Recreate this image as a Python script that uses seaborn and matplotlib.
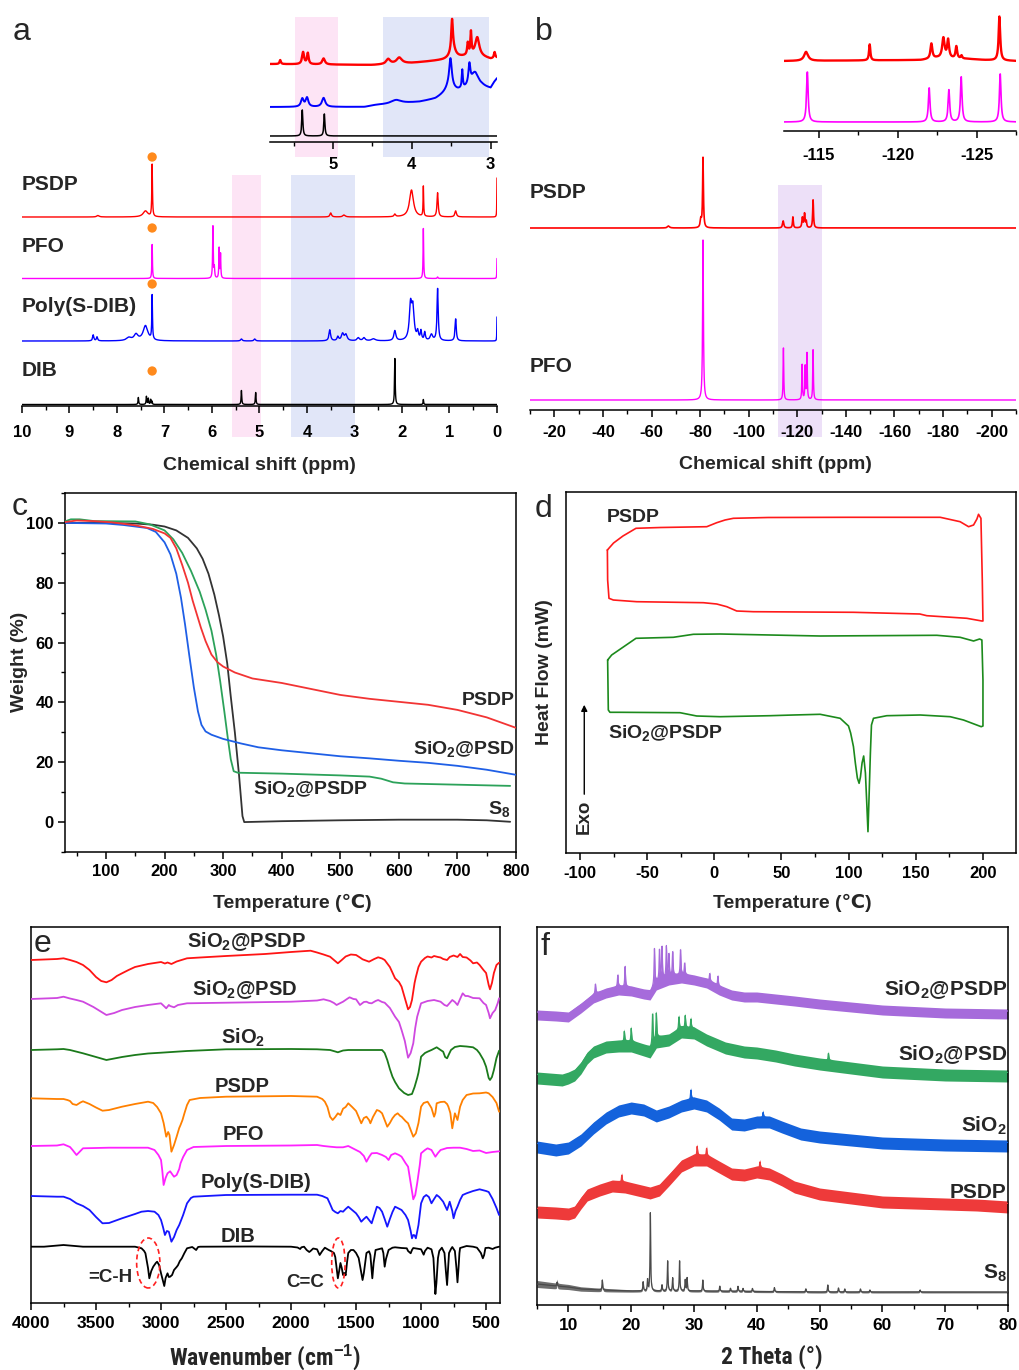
import numpy as np
import matplotlib
matplotlib.use("Agg")
import matplotlib.pyplot as plt
from matplotlib.patches import Ellipse
from matplotlib.ticker import MultipleLocator
import seaborn as sns

# ---------------------------------------------------------------
# (a) 1H NMR  -- peak tables: (shift ppm, height, half-width ppm)
# ---------------------------------------------------------------
h1_labels = ["PSDP", "PFO", "Poly(S-DIB)", "DIB"]
h1_colors = ["#ff0000", "#ff00ff", "#0000ff", "#000000"]
h1_baselines = [189, 127.5, 65, 1.5]
h1_label_y = [221, 159, 100, 35]
h1_dot_y = [249, 178, 122, 35]
h1_solvent_ppm = 7.26
h1_psdp = [(8.40, 1.5, 0.03), (7.40, 6, 0.06), (7.26, 52, 0.008), (3.50, 4, 0.02),
           (3.22, 2, 0.03), (2.15, 2.5, 0.02), (1.80, 27, 0.05), (1.55, 30, 0.007),
           (1.25, 24, 0.015), (0.87, 6, 0.02), (0.00, 39, 0.004)]
h1_pfo = [(7.26, 34, 0.007), (5.98, 52, 0.008), (5.95, 10, 0.008), (5.85, 30, 0.007),
          (5.82, 24, 0.007), (1.55, 50, 0.007), (1.25, 1.5, 0.01), (0.00, 20, 0.004)]
h1_poly = [(8.50, 6, 0.015), (8.42, 4, 0.015), (7.75, 3, 0.06), (7.60, 6, 0.05),
           (7.40, 15, 0.06), (7.26, 44, 0.008), (5.38, 2, 0.02), (5.10, 2, 0.02),
           (3.52, 11, 0.02), (3.35, 4, 0.02), (3.25, 7, 0.03), (3.18, 6, 0.03),
           (2.92, 3, 0.03), (2.80, 3, 0.03), (2.60, 2, 0.05), (2.15, 10, 0.025),
           (1.82, 34, 0.03), (1.77, 30, 0.03), (1.67, 8, 0.02), (1.60, 9, 0.015),
           (1.52, 8, 0.015), (1.38, 6, 0.03), (1.25, 52, 0.015), (0.87, 22, 0.015),
           (0.00, 24, 0.004)]
h1_dib = [(7.55, 7, 0.008), (7.38, 8, 0.008), (7.34, 6, 0.008), (7.29, 5, 0.008),
          (7.26, 3, 0.006), (5.38, 14, 0.008), (5.08, 12, 0.008), (2.15, 46, 0.008),
          (1.55, 5, 0.007)]
h1_bands = [(5.58, 4.97, "#fde4f5"), (4.34, 2.99, "#e1e6f8")]

# inset of (a): 5.8 - 2.9 ppm
h1i_colors = ["#ff0000", "#0000ff", "#000000"]
h1i_psdp_base = [(2.92, 84), (3.0, 83), (3.2, 87), (3.45, 84), (3.6, 82), (4.0, 79),
                 (4.5, 77), (5.8, 78)]
h1i_psdp = [(5.67, 4, 0.01), (5.38, 12, 0.015), (5.32, 11, 0.012), (5.12, 6, 0.02),
            (4.30, 5, 0.03), (4.16, 6, 0.04), (3.49, 30, 0.012), (3.48, 10, 0.04),
            (3.29, 12, 0.01), (3.25, 22, 0.008), (3.17, 18, 0.03), (2.95, 6, 0.01)]
h1i_poly_base = [(2.92, 63), (2.95, 60), (3.0, 53), (3.1, 54), (3.3, 52), (3.42, 50),
                 (3.55, 49), (3.6, 47), (3.7, 43), (3.9, 40), (4.2, 38), (4.45, 37),
                 (4.6, 35), (5.8, 35)]
h1i_poly = [(5.39, 8, 0.02), (5.33, 9, 0.02), (5.12, 9, 0.025), (4.2, 4, 0.08),
            (3.51, 28, 0.02), (3.52, 6, 0.06), (3.36, 18, 0.008), (3.27, 20, 0.015),
            (3.20, 16, 0.06)]
h1i_dib_base = [(2.92, 6), (5.8, 6)]
h1i_dib = [(5.39, 26, 0.008), (5.11, 22, 0.008)]
h1i_bands = [(5.48, 4.94, "#fde4f5"), (4.37, 3.02, "#e1e6f8")]

# ---------------------------------------------------------------
# (b) 19F NMR
# ---------------------------------------------------------------
f19_labels = ["PSDP", "PFO"]
f19_colors = ["#ff0000", "#ff00ff"]
f19_baselines = [182, 10]
f19_label_y = [218, 44]
f19_psdp = [(-67, 2, 0.5), (-80.3, 8, 0.3), (-81.2, 70, 0.2), (-114.2, 7, 0.3),
            (-118.2, 11, 0.2), (-122.1, 10, 0.25), (-123.0, 14, 0.25),
            (-123.7, 6, 0.2), (-126.5, 28, 0.2)]
f19_pfo = [(-81.2, 160, 0.2), (-114.3, 52, 0.15), (-122.0, 35, 0.15),
           (-123.25, 33, 0.15), (-124.0, 46, 0.15), (-126.5, 50, 0.15)]
f19_band = (-112.0, -130.0, "#ede0f8")
f19i_psdp_base = [(-127.5, 70), (-125.5, 71), (-124.5, 72), (-122.5, 73),
                  (-121.5, 71), (-112.8, 70)]
f19i_psdp = [(-114.2, 9, 0.15), (-118.23, 16, 0.05), (-122.14, 15, 0.07),
             (-122.9, 20, 0.09), (-123.2, 18, 0.07), (-123.72, 12, 0.06),
             (-124.05, 3, 0.05), (-126.45, 44, 0.06)]
f19i_pfo_base = [(-127.5, 9), (-112.8, 9)]
f19i_pfo = [(-114.28, 50, 0.06), (-122.0, 34, 0.06), (-123.25, 32, 0.06),
            (-124.03, 45, 0.06), (-126.5, 48, 0.06)]

# ---------------------------------------------------------------
# (c) TGA: temperature (°C) / weight (%)
# ---------------------------------------------------------------
tga_psdp_t = [30, 50, 80, 110, 150, 180, 200, 210, 220, 230, 240, 248, 255, 262, 270,
              280, 290, 300, 320, 350, 400, 450, 500, 550, 600, 650, 700, 750, 800]
tga_psdp_w = [100.3, 100.8, 100.6, 100.2, 99.2, 98, 96.5, 95, 91.5, 86, 80, 74, 69.5,
              65, 60.5, 56, 53.5, 52, 50, 48, 46.5, 44.5, 42.5, 41.2, 40.2, 39.2,
              37.5, 35, 31.5]
tga_psd_t = [30, 100, 130, 170, 185, 200, 210, 220, 228, 235, 242, 250, 257, 263, 270,
             280, 300, 330, 360, 400, 450, 500, 550, 600, 650, 700, 750, 800]
tga_psd_w = [100, 99.8, 99.3, 98.3, 97, 93.5, 89.5, 83, 75, 66, 56, 45, 37, 32.5,
             30.3, 29.2, 27.8, 26.3, 25, 24, 23, 22, 21.3, 20.5, 19.8, 18.8, 17.5, 15.8]
tga_psdp_si_t = [30, 40, 55, 80, 150, 175, 200, 215, 230, 245, 260, 270, 280, 288,
                 295, 302, 308, 313, 318, 325, 400, 500, 550, 570, 590, 610, 700, 790]
tga_psdp_si_w = [100.5, 101.2, 101.2, 100.6, 100.5, 99.5, 97.5, 94.5, 90, 84, 77, 71,
                 64, 56, 47, 37, 28, 21, 17, 16.5, 16.2, 15.6, 15.2, 14.5, 13.3, 12.9,
                 12.5, 12.1]
tga_s8_t = [30, 100, 150, 180, 200, 220, 240, 255, 265, 275, 285, 293, 300, 307, 313,
            320, 327, 333, 336, 400, 500, 600, 700, 750, 790]
tga_s8_w = [100, 100, 99.8, 99.4, 98.8, 97.5, 95, 91.5, 88, 83, 76, 69, 62, 53, 42,
            30, 16, 2, 0, 0.3, 0.6, 0.8, 0.8, 0.6, 0.1]

# ---------------------------------------------------------------
# (d) DSC loops (heat flow in arbitrary offset units)
# ---------------------------------------------------------------
dsc_psdp_t = [-79.6, -75, -68, -58.3, -40, -5.6, 1.8, 8, 14.2, 40, 100, 168.2, 183,
              189.3, 193, 195.5, 196.7, 198.5, 199.5, 200, 199.2, 188, 158.2, 153,
              103.6, 29, 16.7, 9.3, 1.8, -8.1, -57.8, -75.2, -78.4, -79.4, -79.6]
dsc_psdp_h = [303, 310, 317, 324.7, 325.5, 326.3, 330.3, 333, 334.7, 335.5, 335.7,
              335.7, 331.3, 326.3, 328, 334, 338.7, 334.7, 273, 232, 232, 234.7, 237.3,
              239, 240.7, 241.3, 242, 246.3, 249, 250.3, 251.3, 253, 254.7, 273, 303]
dsc_si_t = [-79.4, -76.4, -58.3, -30.5, -15.6, 4.3, 78.8, 165.7, 183, 193, 197.5, 199.2,
            200, 200, 198.7, 185.5, 175.6, 153.3, 128.4, 118.5, 117, 116.2, 115.3,
            114.4, 113.5, 112.5, 111.2, 110, 108.8, 107.8, 106.5, 105, 103.6, 101.5,
            99.9, 93.7, 78.8, 58.9, 41.5, 4.3, -13.1, -25.5, -70.2, -77.7, -78.9, -79.4]
dsc_si_h = [193, 198, 214.7, 215.7, 218.7, 219, 217, 217.7, 215.7, 212, 214, 213, 173,
            127, 126.3, 133, 136.3, 138, 137.3, 134.7, 128, 100, 60, 21.3, 50, 80, 97,
            90, 76, 69.7, 75, 90, 106.3, 120, 127, 134.7, 138.7, 138, 137.3, 136.3, 137,
            140.3, 140.7, 140.7, 143, 193]

# ---------------------------------------------------------------
# (e) FTIR: (wavenumber, stacked transmittance)
# ---------------------------------------------------------------
ir_labels = ["SiO$_2$@PSDP", "SiO$_2$@PSD", "SiO$_2$", "PSDP", "PFO", "Poly(S-DIB)", "DIB"]
ir_colors = ["#ff1414", "#cf48e0", "#1b7a1b", "#ff8000", "#ff22ff", "#1616ff", "#000000"]
ir_label_pos = [(2346, 361), (2354, 313), (2369, 265), (2377, 217), (2369, 168),
                (2269, 120), (2408, 66)]
ir_si_psdp = [(4000, 343), (3900, 343.5), (3800, 344), (3750, 344.7), (3700, 343), (3650, 341),
              (3600, 338), (3550, 333), (3500, 326), (3460, 322), (3420, 320.7), (3380, 323),
              (3340, 327), (3300, 329.7), (3250, 333), (3200, 336), (3100, 339), (3000, 341),
              (2970, 339.5), (2950, 340.5), (2920, 339), (2880, 341.5), (2800, 344.7),
              (2700, 345.5), (2500, 347), (2200, 349), (2000, 351), (1850, 352.3),
              (1800, 350.5), (1750, 348.5), (1700, 346.3), (1670, 343), (1640, 339.7),
              (1610, 343), (1580, 346.5), (1540, 348.5), (1500, 348), (1470, 345.5),
              (1450, 343.7), (1400, 341.3), (1360, 344), (1330, 345.7), (1300, 344.5),
              (1280, 343), (1240, 336), (1200, 324.7), (1170, 321), (1150, 316.3),
              (1125, 305), (1100, 293.7), (1085, 296), (1070, 303), (1050, 320), (1040, 326),
              (1020, 336), (1000, 341.3), (970, 345), (950, 346.5), (920, 345.5), (900, 347),
              (870, 346), (850, 345.5), (830, 344), (800, 343), (780, 346), (750, 347.5),
              (720, 346), (700, 349), (680, 346), (650, 345.5), (620, 342.5), (600, 339.7),
              (570, 340.5), (550, 338), (520, 333), (500, 330), (480, 318), (470, 313.7),
              (455, 320), (440, 330), (420, 338), (400, 340.3)]
ir_si_psd = [(4000, 304), (3900, 304.5), (3800, 305), (3750, 306.3), (3700, 304.5), (3650, 303),
             (3600, 301.3), (3520, 296), (3420, 288), (3360, 290), (3300, 293), (3200, 296),
             (3100, 298), (3000, 299.7), (2970, 296), (2960, 294.7), (2940, 298), (2930, 297),
             (2900, 295.7), (2870, 298), (2800, 299.7), (2500, 300.3), (2000, 301.3),
             (1800, 302.5), (1750, 303.7), (1700, 302), (1670, 300), (1650, 298), (1620, 300),
             (1600, 301.3), (1570, 304), (1550, 305.7), (1520, 304), (1500, 303.7),
             (1470, 298), (1440, 301), (1420, 301.3), (1400, 300), (1380, 299.7), (1350, 302),
             (1330, 303), (1300, 301), (1280, 300.3), (1240, 295), (1200, 286.3), (1170, 281),
             (1150, 273), (1125, 262), (1100, 245.3), (1080, 250), (1060, 259.7), (1045, 275),
             (1030, 286.3), (1000, 299.7), (950, 302), (900, 303), (850, 301.3), (820, 298),
             (800, 297), (780, 300), (760, 303), (740, 301), (720, 298), (700, 304),
             (680, 309.7), (660, 307), (640, 307), (600, 305), (550, 304.7), (520, 300),
             (500, 298), (480, 290), (470, 284.7), (450, 290), (430, 293), (410, 300),
             (400, 304.7)]
ir_sio2 = [(4000, 253), (3800, 253.7), (3750, 254), (3700, 253), (3600, 249.7), (3500, 246),
           (3420, 243), (3300, 246), (3200, 248), (3100, 249.5), (3000, 250.3), (2800, 252),
           (2500, 253.7), (2000, 254), (1800, 253.7), (1700, 253), (1660, 251.5), (1640, 250.7),
           (1600, 252.5), (1560, 253), (1400, 253), (1300, 253), (1280, 250), (1260, 243),
           (1240, 234), (1220, 226.3), (1200, 221), (1170, 214.7), (1130, 210), (1100, 208),
           (1070, 209), (1050, 216), (1030, 225), (1020, 230.3), (1010, 238), (1000, 246.3),
           (970, 250), (950, 251.3), (920, 253), (880, 255.7), (850, 253), (830, 251.3),
           (815, 246), (800, 244.7), (785, 249), (770, 253), (740, 256), (700, 257),
           (650, 256.5), (600, 255.7), (570, 253), (550, 249.7), (520, 243), (500, 236.3),
           (480, 225), (470, 223), (455, 226), (440, 233), (420, 245), (400, 252.3)]
ir_psdp = [(4000, 204.7), (3800, 204), (3750, 204), (3720, 203), (3700, 202), (3680, 199),
           (3650, 198), (3620, 200.5), (3600, 201.7), (3550, 199), (3500, 195.5), (3450, 192.3),
           (3400, 193), (3300, 196.3), (3200, 199), (3100, 201.3), (3060, 200), (3030, 196),
           (3000, 189.7), (2980, 180), (2960, 166.3), (2945, 171), (2935, 168), (2920, 151.3),
           (2900, 158), (2880, 166.3), (2860, 175), (2850, 178), (2835, 183), (2820, 189.7),
           (2800, 198), (2780, 203), (2700, 205), (2500, 206.3), (2000, 207), (1800, 206.3),
           (1760, 204), (1740, 201.3), (1720, 196), (1700, 186.3), (1680, 183), (1660, 186),
           (1640, 189.7), (1620, 188), (1600, 194.3), (1580, 196), (1560, 199.7), (1530, 196),
           (1500, 192), (1480, 186), (1460, 179.7), (1440, 185), (1420, 186.3), (1400, 183),
           (1390, 179.7), (1370, 186), (1340, 193), (1320, 192), (1300, 189.7), (1280, 183),
           (1260, 176.3), (1240, 180), (1220, 184.7), (1200, 188), (1180, 189.7), (1160, 187),
           (1150, 186.3), (1120, 182), (1100, 179.7), (1080, 173), (1060, 166.3), (1050, 168),
           (1040, 169.7), (1020, 180), (1000, 196.3), (980, 200), (950, 201.3), (920, 195),
           (900, 186.3), (890, 190), (880, 199.7), (850, 201), (820, 201.3), (800, 199),
           (790, 196.3), (775, 190), (760, 174.7), (745, 186), (740, 189.7), (720, 183),
           (700, 196.3), (680, 203), (650, 208), (600, 209.5), (550, 209.7), (500, 210.5),
           (480, 209.7), (450, 206), (420, 200), (400, 191.3)]
ir_pfo = [(4000, 157), (3800, 157.5), (3750, 158.7), (3700, 156), (3680, 153), (3650, 148),
          (3620, 152), (3600, 154.7), (3500, 155), (3400, 155.3), (3200, 155.3), (3100, 155.3),
          (3050, 153), (3020, 148), (3000, 143), (2990, 132), (2980, 118), (2965, 125),
          (2950, 129.7), (2930, 131.7), (2910, 128), (2900, 126.3), (2880, 128), (2860, 134),
          (2850, 139.7), (2830, 146), (2800, 153), (2750, 156), (2500, 157), (2000, 157.5),
          (1800, 158), (1750, 157), (1700, 156.3), (1650, 155.7), (1600, 155.7), (1560, 157),
          (1530, 155), (1500, 153), (1470, 151), (1440, 147), (1420, 141.3), (1400, 146),
          (1380, 149.7), (1340, 150), (1300, 148), (1270, 146), (1250, 143), (1230, 148),
          (1200, 149.7), (1170, 148), (1150, 146.3), (1120, 140), (1100, 136.3), (1080, 120),
          (1060, 103.7), (1045, 108), (1030, 119.7), (1010, 138), (1000, 149.7), (970, 153),
          (950, 154.7), (920, 153), (890, 146.3), (870, 150), (850, 153), (800, 155),
          (750, 155.3), (700, 155.3), (650, 154), (600, 152), (550, 152.5), (500, 150),
          (450, 151), (400, 151.7)]
ir_poly = [(4000, 107), (3800, 106.3), (3750, 106.3), (3700, 104), (3650, 99.7), (3600, 97),
           (3550, 93), (3500, 86), (3450, 79.7), (3400, 80), (3300, 84.7), (3200, 89),
           (3150, 91.3), (3100, 92), (3050, 91.3), (3020, 88), (3000, 83), (2985, 76),
           (2970, 68), (2955, 72), (2940, 71.3), (2920, 61.3), (2900, 66), (2880, 73),
           (2860, 78), (2850, 81.3), (2830, 88), (2800, 99.7), (2770, 105), (2750, 106.3),
           (2500, 108), (2000, 108.3), (1800, 108.3), (1760, 107), (1720, 104.7), (1700, 99),
           (1680, 93), (1660, 91), (1640, 89.7), (1620, 92), (1600, 91.3), (1580, 94),
           (1560, 96.3), (1530, 93), (1500, 89.7), (1480, 86), (1460, 81.3), (1440, 84),
           (1420, 86.3), (1400, 83), (1380, 79.7), (1360, 88), (1340, 96.3), (1320, 95),
           (1300, 91.3), (1280, 84), (1260, 76.3), (1240, 84), (1220, 91), (1200, 96.3),
           (1180, 95), (1150, 93), (1120, 88), (1100, 83), (1080, 72), (1070, 64.7),
           (1060, 68), (1050, 67.7), (1040, 64.7), (1020, 78), (1000, 99.7), (980, 106),
           (960, 108), (940, 106), (920, 99.7), (900, 104), (880, 108), (860, 106),
           (830, 101.3), (800, 93), (790, 97), (780, 101.3), (760, 92), (750, 84.7),
           (735, 92), (720, 96.3), (700, 103), (680, 108), (650, 109.7), (600, 112),
           (550, 113.7), (500, 112), (480, 111), (450, 104), (420, 95), (400, 88)]
ir_dib = [(4000, 56.3), (3900, 56.3), (3750, 58), (3600, 56.3), (3500, 56.3), (3200, 56.3),
          (3150, 54.7), (3130, 52), (3120, 49.7), (3100, 35), (3090, 24.7), (3075, 32),
          (3060, 36.3), (3040, 40), (3030, 41.3), (3015, 38), (3000, 29.7), (2985, 22),
          (2975, 17), (2965, 25), (2950, 29.7), (2940, 26), (2930, 26.3), (2915, 28),
          (2900, 33), (2880, 36), (2870, 37.7), (2855, 42), (2840, 44.7), (2820, 50),
          (2800, 54.7), (2760, 56), (2740, 54), (2730, 53), (2715, 56), (2700, 56.3),
          (2300, 56.5), (2000, 56.3), (1950, 55.5), (1930, 54), (1920, 55.7), (1900, 56.3),
          (1880, 53), (1860, 51), (1850, 52), (1830, 54.5), (1800, 53.7), (1780, 48),
          (1760, 52), (1740, 55.3), (1710, 53), (1690, 51.7), (1670, 50), (1660, 46),
          (1650, 35), (1640, 24.7), (1630, 32), (1620, 40), (1610, 35), (1600, 28),
          (1590, 30), (1580, 27.7), (1570, 40), (1560, 50), (1540, 53), (1520, 53),
          (1500, 50), (1480, 45), (1460, 30), (1450, 23), (1440, 30), (1420, 50),
          (1400, 51.7), (1390, 48), (1375, 24.7), (1365, 40), (1350, 53), (1320, 54),
          (1300, 54.7), (1290, 50), (1280, 36.3), (1270, 44), (1250, 53), (1220, 55.3),
          (1200, 55.7), (1150, 55), (1110, 54.7), (1100, 52), (1080, 49.7), (1070, 53),
          (1060, 55), (1000, 53.7), (990, 51), (980, 48.3), (970, 52), (950, 55.3),
          (920, 53.7), (905, 45), (895, 20), (890, 9), (882, 20), (870, 45), (860, 52),
          (840, 55.3), (820, 50), (810, 33), (800, 18), (792, 35), (785, 50), (770, 54),
          (760, 56), (740, 52), (728, 35), (720, 20.7), (712, 35), (705, 50), (700, 55),
          (650, 57), (600, 56.3), (570, 55.3), (540, 50), (525, 44.7), (515, 48), (505, 55),
          (480, 55.3), (450, 54), (430, 55.3), (400, 56.3)]
ir_series = [ir_si_psdp, ir_si_psd, ir_sio2, ir_psdp, ir_pfo, ir_poly, ir_dib]
ir_marks = [("=C-H", 3392, 26, 3098, 179), ("C=C", 1888, 20.5, 1636, 103)]
ir_mark_y, ir_mark_h = 40, 50

# ---------------------------------------------------------------
# (f) XRD: smooth course (2θ, offset intensity), noise half-width, sharp reflections
# ---------------------------------------------------------------
xrd_labels = ["SiO$_2$@PSDP", "SiO$_2$@PSD", "SiO$_2$", "PSDP", "S$_8$"]
xrd_colors = ["#a66bdb", "#33a862", "#1462dc", "#ee3a3a", "#4a4a4a"]
xrd_label_y = [315, 250, 179, 113, 32]
xrd_si_psdp = [(5, 290), (8, 289), (10, 288), (12, 297), (14, 307), (16, 312), (18, 315),
               (20, 314), (22, 311), (23, 310), (24, 320), (26, 325), (28, 327), (30, 325),
               (32, 322), (34, 315), (36, 310), (38, 308), (40, 308), (43, 306), (46, 304),
               (50, 301), (55, 298), (60, 295), (70, 292), (80, 291)]
xrd_si_psdp_spikes = [(14.3, 10), (17.86, 12), (19.03, 21), (23.7, 36), (24.5, 30),
                      (24.9, 32), (25.6, 31), (26.0, 22), (26.6, 24), (27.85, 25),
                      (28.5, 12), (32.5, 8), (33.8, 10)]
xrd_si_psd = [(5, 227), (9, 225), (10, 227), (11, 230), (12, 237), (13, 247), (14, 253),
              (16, 258), (18, 259), (20, 259), (22, 255), (23, 253), (24, 263), (26, 265),
              (28, 273), (30, 272), (32, 265), (35, 257), (38, 253), (40, 252), (43, 249),
              (46, 245), (50, 241), (55, 237), (60, 233), (70, 230), (80, 229)]
xrd_si_psd_spikes = [(18.9, 11), (20.0, 14), (23.4, 30), (24.0, 25), (27.6, 13),
                     (28.6, 13), (29.5, 10), (51.4, 8)]
xrd_sio2 = [(5, 158), (8, 155), (10, 157), (12, 165), (14, 177), (16, 187), (18, 194),
            (20, 197), (22, 195), (24, 189), (26, 193), (28, 199), (30, 202), (32, 199),
            (34, 191), (36, 181), (38, 180), (40, 183), (42, 183), (44, 178), (47, 171),
            (50, 168), (55, 165), (60, 162), (70, 160), (80, 159)]
xrd_sio2_spikes = [(29.5, 10), (41.0, 6)]
xrd_psdp = [(5, 93), (8, 92), (10, 91), (11, 93), (12, 102), (13, 110), (15, 115),
            (17, 119), (19, 118), (21, 115), (23, 112), (24.5, 115), (26, 125), (28, 139),
            (30, 145), (32, 145), (34, 138), (36, 131), (38, 130), (40, 133), (42, 131),
            (44, 125), (46, 118), (50, 111), (55, 107), (60, 103), (65, 102), (70, 101),
            (75, 100), (80, 98)]
xrd_psdp_spikes = [(18.5, 8), (30.5, 10), (32.0, 8), (40.5, 7)]
xrd_noise = [5, 6, 6, 6]
xrd_s8 = [(5, 21), (8, 19), (10, 18), (12, 16), (15, 15), (20, 14), (30, 14), (50, 13),
          (80, 13)]
xrd_s8_noise = [(5, 3.5), (12, 2.2), (20, 1.2), (80, 0.9)]
xrd_s8_peaks = [(8.2, 4), (15.4, 10), (21.9, 9), (22.6, 11), (23.05, 78), (24.9, 6),
                (25.8, 30), (26.6, 13), (27.7, 30), (28.6, 11), (28.9, 13), (31.4, 11),
                (34.1, 5), (35.8, 3), (37.0, 5), (37.8, 3), (39.3, 3), (42.8, 4),
                (47.8, 3), (51.3, 7), (53.0, 4), (54.0, 3), (56.5, 3), (58.0, 2), (66.0, 2)]

# ---------------------------------------------------------------
sns.set_style("ticks", {"axes.edgecolor": "black", "xtick.color": "black",
                        "ytick.color": "black", "axes.linewidth": 1.1})
plt.rcParams["font.family"] = ["Liberation Sans", "DejaVu Sans"]
plt.rcParams["font.weight"] = "bold"
plt.rcParams["axes.labelweight"] = "bold"
plt.rcParams["mathtext.fontset"] = "custom"
plt.rcParams["mathtext.rm"] = "Liberation Sans:bold"
plt.rcParams["mathtext.bf"] = "Liberation Sans:bold"
plt.rcParams["mathtext.it"] = "Liberation Sans:bold:italic"
plt.rcParams["axes.unicode_minus"] = False

W, H = 1020, 1370
fig = plt.figure(figsize=(W / 100, H / 100), dpi=100)
NARROW = ["Liberation Sans Narrow", "Roboto Condensed", "Liberation Sans", "DejaVu Sans"]


def frame(l, t, r, b):
    return fig.add_axes([l / W, 1 - b / H, (r - l) / W, (b - t) / H])


def spectrum(x, base, peaks):
    if np.isscalar(base):
        y = np.full_like(x, float(base))
    else:
        bx, by = zip(*sorted(base))
        y = np.interp(x, bx, by)
    for pos, hgt, wid in peaks:
        y = y + hgt / (1 + ((x - pos) / wid) ** 2)
    return y


def line(ax, x, y, color, lw=1.0, z=3):
    sns.lineplot(x=np.asarray(x), y=np.asarray(y), ax=ax, color=color, linewidth=lw,
                 estimator=None, sort=False, legend=False, zorder=z)


def xaxis_style(ax, major, minor, size=12, pad=4, box=True):
    ax.xaxis.set_major_locator(MultipleLocator(major))
    ax.xaxis.set_minor_locator(MultipleLocator(minor))
    ax.tick_params(axis="x", which="major", direction="out", length=5, width=1.1,
                   labelsize=size, pad=pad)
    ax.tick_params(axis="x", which="minor", direction="out", length=3, width=1.0)
    ax.tick_params(axis="y", which="both", left=False, right=False, labelleft=False)
    for s in ax.spines.values():
        s.set_linewidth(1.1)
    if not box:
        for s in ("left", "top", "right"):
            ax.spines[s].set_visible(False)
    ax.set_ylabel("")


def band(ax, lo, hi, color, ymin, ymax):
    p = ax.axvspan(lo, hi, ymin=ymin, ymax=ymax, color=color, lw=0, zorder=0)
    p.set_clip_on(False)


# ---------------- (a) ----------------
ax = frame(22, 150, 497, 406)
ax.set_xlim(10, 0)
ax.set_ylim(0, 256)
for lo, hi, c in h1_bands:
    band(ax, lo, hi, c, -31 / 256, 231 / 256)
x = np.linspace(0, 10, 10001)
for peaks, base, col in zip([h1_psdp, h1_pfo, h1_poly, h1_dib], h1_baselines, h1_colors):
    line(ax, x, spectrum(x, base, peaks), col, 1.0)
sns.scatterplot(x=[h1_solvent_ppm] * 4, y=h1_dot_y, ax=ax, color="#ff8a1c", s=45,
                edgecolor="none", zorder=4, legend=False)
for lab, yy in zip(h1_labels, h1_label_y):
    ax.text(10, yy, lab, ha="left", va="center", fontsize=15, fontweight="bold")
xaxis_style(ax, 1, 0.5, box=False, pad=9)
ax.set_xlabel("Chemical shift (ppm)", fontsize=14)
ax.xaxis.set_label_coords(0.499, -0.232)
ax.xaxis.label.set_va("center")

ax = frame(270, 15, 497, 142)
ax.set_xlim(5.8, 2.92)
ax.set_ylim(0, 127)
for lo, hi, c in h1i_bands:
    band(ax, lo, hi, c, -15 / 127, 125 / 127)
x = np.linspace(2.92, 5.8, 5001)
for base, peaks, col, lw in zip([h1i_psdp_base, h1i_poly_base, h1i_dib_base],
                                [h1i_psdp, h1i_poly, h1i_dib], h1i_colors, [1.7, 1.4, 1.1]):
    line(ax, x, spectrum(x, base, peaks), col, lw)
xaxis_style(ax, 1, 0.5, box=False, pad=6)
ax.patch.set_alpha(0)

# ---------------- (b) ----------------
ax = frame(530, 150, 1016, 410)
ax.set_xlim(-10, -210)
ax.set_ylim(0, 260)
band(ax, f19_band[0], f19_band[1], f19_band[2], -27 / 260, 225 / 260)
x = np.linspace(-210, -10, 10001)
for peaks, base, col in zip([f19_psdp, f19_pfo], f19_baselines, f19_colors):
    line(ax, x, spectrum(x, base, peaks), col, 1.2 if col == "#ff0000" else 1.0)
for lab, yy in zip(f19_labels, f19_label_y):
    ax.text(-10, yy, lab, ha="left", va="center", fontsize=15, fontweight="bold")
xaxis_style(ax, 20, 10, box=False, pad=6)
ax.set_xlabel("Chemical shift (ppm)", fontsize=14)
ax.xaxis.set_label_coords(0.504, -0.208)
ax.xaxis.label.set_va("center")

ax = frame(784, 10, 1016, 131)
ax.set_xlim(-112.8, -127.5)
ax.set_ylim(0, 121)
x = np.linspace(-127.5, -112.8, 5001)
line(ax, x, spectrum(x, f19i_psdp_base, f19i_psdp), "#ff0000", 1.7)
line(ax, x, spectrum(x, f19i_pfo_base, f19i_pfo), "#ff00ff", 1.2)
xaxis_style(ax, 5, 2.5, box=False, pad=7)
ax.patch.set_alpha(0)

# ---------------- (c) ----------------
ax = frame(65, 493, 516, 852)
ax.set_xlim(30, 800)
ax.set_ylim(-10, 110)
for tt, ww, col in [(tga_s8_t, tga_s8_w, "#333333"), (tga_psdp_si_t, tga_psdp_si_w, "#2ca25a"),
                    (tga_psd_t, tga_psd_w, "#1f5fe6"), (tga_psdp_t, tga_psdp_w, "#f23434")]:
    line(ax, tt, ww, col, 1.3)
xaxis_style(ax, 100, 50)
ax.yaxis.set_major_locator(MultipleLocator(20))
ax.yaxis.set_minor_locator(MultipleLocator(10))
ax.tick_params(axis="y", which="major", left=True, labelleft=True, direction="out",
               length=5, width=1.1, labelsize=12, pad=3)
ax.tick_params(axis="y", which="minor", left=True, direction="out", length=3, width=1.0)
ax.text(798, 40.5, "PSDP", ha="right", va="center", fontsize=14)
ax.text(798, 24.3, "SiO$_2$@PSD", ha="right", va="center", fontsize=14)
ax.text(351, 11, "SiO$_2$@PSDP", ha="left", va="center", fontsize=14)
ax.text(791, 4.3, "S$_8$", ha="right", va="center", fontsize=14)
ax.set_xlabel("Temperature (\u2103)", fontsize=14)
ax.xaxis.set_label_coords(0.503, -0.142)
ax.xaxis.label.set_va("center")
ax.set_ylabel("Weight (%)", fontsize=14)
ax.yaxis.set_label_coords(-0.0998, 0.529)
ax.yaxis.label.set_va("center")

# ---------------- (d) ----------------
ax = frame(566, 492, 1016, 853)
ax.set_xlim(-110.4, 224.6)
ax.set_ylim(0, 361)
line(ax, dsc_psdp_t, dsc_psdp_h, "#ff1a1a", 1.2)
line(ax, dsc_si_t, dsc_si_h, "#1c8a1c", 1.2)
xaxis_style(ax, 50, 25)
ax.text(-80.1, 335.5, "PSDP", ha="left", va="center", fontsize=14)
ax.text(-79.1, 120, "SiO$_2$@PSDP", ha="left", va="center", fontsize=14)
ax.annotate("", xy=(-96.8, 151), xytext=(-96.8, 56),
            arrowprops=dict(arrowstyle="-|>", color="black", lw=1.0, mutation_scale=9))
ax.text(-96.8, 36, "Exo", rotation=90, ha="center", va="center", fontsize=13.5)
ax.set_xlabel("Temperature (\u2103)", fontsize=14)
ax.xaxis.set_label_coords(0.502, -0.1385)
ax.xaxis.label.set_va("center")
ax.set_ylabel("Heat Flow (mW)", fontsize=14)
ax.yaxis.set_label_coords(-0.0467, 0.501)
ax.yaxis.label.set_va("center")

# ---------------- (e) ----------------
ax = frame(31, 927, 500, 1303)
ax.set_xlim(4000, 393)
ax.set_ylim(0, 376)
for pts, col in zip(ir_series, ir_colors):
    wn, tr = zip(*pts)
    line(ax, wn, tr, col, 1.3)
for lab, (px, py) in zip(ir_labels, ir_label_pos):
    ax.text(px, py, lab, ha="center", va="center", fontsize=14.5)
for txt, tx, ty, ex, ew in ir_marks:
    ax.text(tx, ty, txt, ha="center", va="center", fontsize=13.5)
    ax.add_patch(Ellipse((ex, ir_mark_y), ew, ir_mark_h, fill=False, edgecolor="#ff2020",
                         ls=(0, (3, 2)), lw=1.2, zorder=5))
xaxis_style(ax, 500, 250, size=12.5)
ax.set_xlabel("Wavenumber (cm$^{-1}$)", fontsize=17, family=NARROW)
ax.xaxis.set_label_coords(0.499, -0.1436)
ax.xaxis.label.set_va("center")

# ---------------- (f) ----------------
ax = frame(537, 927, 1008, 1305)
ax.set_xlim(5, 80)
ax.set_ylim(0, 378)
x = np.linspace(5, 80, 6001)
for pts, spikes, hw, col in zip([xrd_si_psdp, xrd_si_psd, xrd_sio2, xrd_psdp],
                                [xrd_si_psdp_spikes, xrd_si_psd_spikes, xrd_sio2_spikes,
                                 xrd_psdp_spikes], xrd_noise, xrd_colors[:4]):
    centre = spectrum(x, pts, [])
    top = spectrum(x, pts, [(p, h, 0.07) for p, h in spikes])
    ax.fill_between(x, centre - hw, top + hw, color=col, lw=0, zorder=2)
    line(ax, x, top + hw * 0.6, col, 0.9)
s8 = spectrum(x, xrd_s8, [(p, h, 0.06) for p, h in xrd_s8_peaks])
nx, nw = zip(*xrd_s8_noise)
s8_hw = np.interp(x, nx, nw)
ax.fill_between(x, s8 - s8_hw, s8 + s8_hw, color=xrd_colors[4], lw=0, alpha=0.8, zorder=2)
line(ax, x, s8, xrd_colors[4], 0.9)
for lab, yy in zip(xrd_labels, xrd_label_y):
    ax.text(79.8, yy, lab, ha="right", va="center", fontsize=15)
xaxis_style(ax, 10, 5, size=12.5)
ax.set_xlabel("2 Theta (\u00b0)", fontsize=17, family=NARROW)
ax.xaxis.set_label_coords(0.499, -0.1376)
ax.xaxis.label.set_va("center")

# panel letters
for letter, px, py in [("a", 13, 40), ("b", 535, 40), ("c", 12, 515), ("d", 535, 517),
                       ("e", 34, 952), ("f", 541, 955)]:
    fig.text(px / W, 1 - py / H, letter, fontsize=23, fontweight="normal",
             ha="left", va="baseline")

fig.savefig("out.png", dpi=100)
